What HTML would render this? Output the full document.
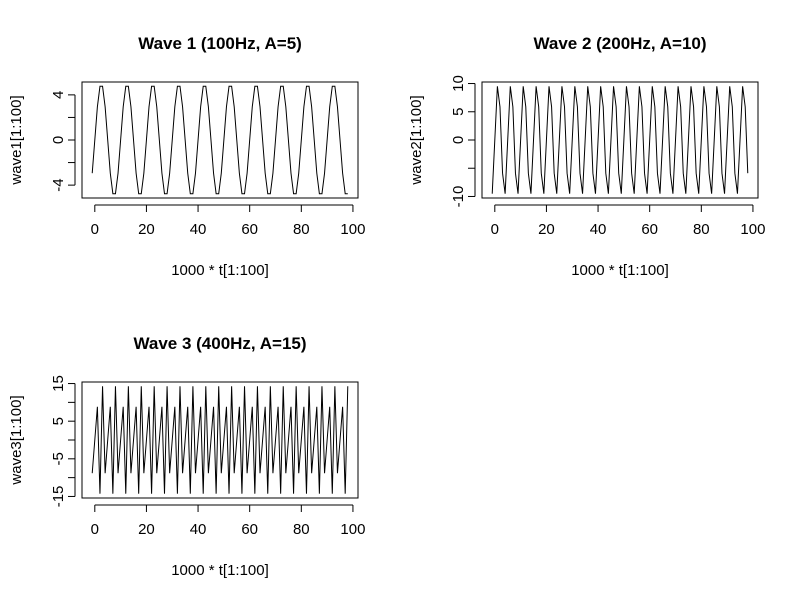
<!DOCTYPE html>
<html><head><meta charset="utf-8"><style>
html,body{margin:0;padding:0;background:#fff;}
svg text{font-family:"Liberation Sans",Arial,sans-serif;fill:#000;}
</style></head><body>
<svg id="c" width="800" height="600" xmlns="http://www.w3.org/2000/svg"></svg>
<script>
const xValues = [-1,0,1,2,3,4,5,6,7,8,9,10,11,12,13,14,15,16,17,18,19,20,21,22,23,24,25,26,27,28,29,30,31,32,33,34,35,36,37,38,39,40,41,42,43,44,45,46,47,48,49,50,51,52,53,54,55,56,57,58,59,60,61,62,63,64,65,66,67,68,69,70,71,72,73,74,75,76,77,78,79,80,81,82,83,84,85,86,87,88,89,90,91,92,93,94,95,96,97,98];
const wave1 = [-2.94,0,2.94,4.76,4.76,2.94,0,-2.94,-4.76,-4.76,
-2.94,0,2.94,4.76,4.76,2.94,0,-2.94,-4.76,-4.76,
-2.94,0,2.94,4.76,4.76,2.94,0,-2.94,-4.76,-4.76,
-2.94,0,2.94,4.76,4.76,2.94,0,-2.94,-4.76,-4.76,
-2.94,0,2.94,4.76,4.76,2.94,0,-2.94,-4.76,-4.76,
-2.94,0,2.94,4.76,4.76,2.94,0,-2.94,-4.76,-4.76,
-2.94,0,2.94,4.76,4.76,2.94,0,-2.94,-4.76,-4.76,
-2.94,0,2.94,4.76,4.76,2.94,0,-2.94,-4.76,-4.76,
-2.94,0,2.94,4.76,4.76,2.94,0,-2.94,-4.76,-4.76,
-2.94,0,2.94,4.76,4.76,2.94,0,-2.94,-4.76,-4.76];
const wave2 = [-9.51,0,9.51,5.88,-5.88,-9.51,0,9.51,5.88,-5.88,
-9.51,0,9.51,5.88,-5.88,-9.51,0,9.51,5.88,-5.88,
-9.51,0,9.51,5.88,-5.88,-9.51,0,9.51,5.88,-5.88,
-9.51,0,9.51,5.88,-5.88,-9.51,0,9.51,5.88,-5.88,
-9.51,0,9.51,5.88,-5.88,-9.51,0,9.51,5.88,-5.88,
-9.51,0,9.51,5.88,-5.88,-9.51,0,9.51,5.88,-5.88,
-9.51,0,9.51,5.88,-5.88,-9.51,0,9.51,5.88,-5.88,
-9.51,0,9.51,5.88,-5.88,-9.51,0,9.51,5.88,-5.88,
-9.51,0,9.51,5.88,-5.88,-9.51,0,9.51,5.88,-5.88,
-9.51,0,9.51,5.88,-5.88,-9.51,0,9.51,5.88,-5.88];
const wave3 = [-8.82,0,8.82,-14.27,14.27,-8.82,0,8.82,-14.27,14.27,
-8.82,0,8.82,-14.27,14.27,-8.82,0,8.82,-14.27,14.27,
-8.82,0,8.82,-14.27,14.27,-8.82,0,8.82,-14.27,14.27,
-8.82,0,8.82,-14.27,14.27,-8.82,0,8.82,-14.27,14.27,
-8.82,0,8.82,-14.27,14.27,-8.82,0,8.82,-14.27,14.27,
-8.82,0,8.82,-14.27,14.27,-8.82,0,8.82,-14.27,14.27,
-8.82,0,8.82,-14.27,14.27,-8.82,0,8.82,-14.27,14.27,
-8.82,0,8.82,-14.27,14.27,-8.82,0,8.82,-14.27,14.27,
-8.82,0,8.82,-14.27,14.27,-8.82,0,8.82,-14.27,14.27,
-8.82,0,8.82,-14.27,14.27,-8.82,0,8.82,-14.27,14.27];
const xTicks = [0,20,40,60,80,100];
const y1Ticks = [-4,-2,0,2,4];
const y1Labels = ["-4","","0","","4"];
const y2Ticks = [-10,-5,0,5,10];
const y2Labels = ["-10","","0","5","10"];
const y3Ticks = [-15,-10,-5,0,5,10,15];
const y3Labels = ["-15","","-5","","5","","15"];
const titles = ["Wave 1 (100Hz, A=5)","Wave 2 (200Hz, A=10)","Wave 3 (400Hz, A=15)"];

const NS="http://www.w3.org/2000/svg";
const svg=document.getElementById('c');
function mk(tag,attrs,parent){const e=document.createElementNS(NS,tag);for(const k in attrs)e.setAttribute(k,attrs[k]);(parent||svg).appendChild(e);return e;}

function panel(idx,ox,oy,ys,yt,yl,ylab){
  const g=mk('g',{});
  
  
  const L=ox+82,R=ox+358,T=oy+82,B=oy+198;
  const xmin=Math.min(...xValues),xmax=Math.max(...xValues);
  const ymin=Math.min(...ys),ymax=Math.max(...ys);
  const xe=(xmax-xmin)*0.04,ye=(ymax-ymin)*0.04;
  const sx=v=>L+(v-(xmin-xe))/((xmax+xe)-(xmin-xe))*(R-L);
  const sy=v=>B-(v-(ymin-ye))/((ymax+ye)-(ymin-ye))*(B-T);
  const t=mk('text',{x:(L+R)/2,y:oy+49,'text-anchor':'middle','font-size':'17','font-weight':'bold'},g);
  t.textContent=titles[idx];
  
  
  const box=mk('rect',{x:L,y:T,width:R-L,height:B-T,fill:'none',stroke:'#000','stroke-width':1},g);
  
  
  const line=mk('polyline',{points:xValues.map((x,i)=>sx(x).toFixed(2)+','+sy(ys[i]).toFixed(2)).join(' '),fill:'none',stroke:'#000','stroke-width':1},g);
  
  
  const xa=mk('g',{},g);
  
  
  mk('line',{x1:sx(xTicks[0]),x2:sx(xTicks[xTicks.length-1]),y1:B+7,y2:B+7,stroke:'#000'},xa);
  xTicks.forEach(v=>{
    mk('line',{x1:sx(v),x2:sx(v),y1:B+7,y2:B+14,stroke:'#000'},xa);
    const tx=mk('text',{x:sx(v),y:B+36,'text-anchor':'middle','font-size':'15'},xa);
    tx.textContent=v;
    
    
  });
  const xl=mk('text',{x:(L+R)/2,y:oy+275,'text-anchor':'middle','font-size':'15'},g);
  xl.textContent='1000 * t[1:100]';
  
  
  const ya=mk('g',{},g);
  
  
  mk('line',{x1:L-7,x2:L-7,y1:sy(yt[0]),y2:sy(yt[yt.length-1]),stroke:'#000'},ya);
  yt.forEach((v,i)=>{
    mk('line',{x1:L-14,x2:L-7,y1:sy(v),y2:sy(v),stroke:'#000'},ya);
    if(yl[i]!==''){
      const ty=mk('text',{x:0,y:0,'text-anchor':'middle','font-size':'15',transform:`translate(${L-19},${sy(v)}) rotate(-90)`},ya);
      ty.textContent=yl[i];
      
      
    }
  });
  const yln=mk('text',{x:0,y:0,'text-anchor':'middle','font-size':'15',transform:`translate(${ox+21},${(T+B)/2}) rotate(-90)`},g);
  yln.textContent=ylab;
  
  
}
panel(0,0,0,wave1,y1Ticks,y1Labels,'wave1[1:100]');
panel(1,400,0,wave2,y2Ticks,y2Labels,'wave2[1:100]');
panel(2,0,300,wave3,y3Ticks,y3Labels,'wave3[1:100]');
</script>
</body></html>
